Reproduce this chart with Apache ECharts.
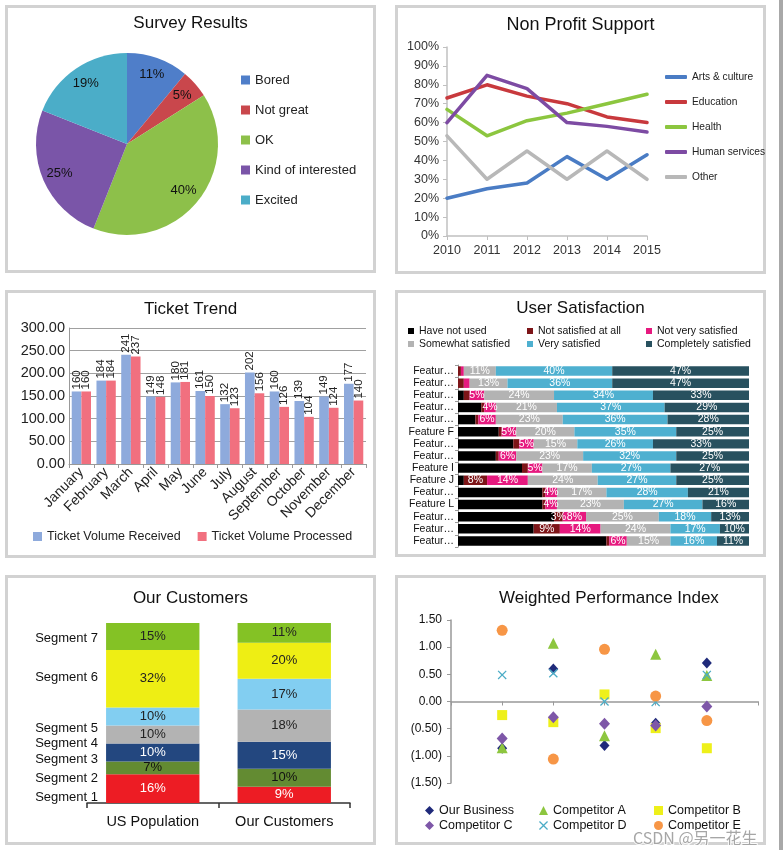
<!DOCTYPE html>
<html><head><meta charset="utf-8">
<script src="https://cdn.jsdelivr.net/npm/echarts@6/dist/echarts.min.js"></script>
<style>
html,body{margin:0;padding:0;background:#fff;width:783px;height:850px;overflow:hidden;position:relative}
.panel{position:absolute;box-sizing:border-box;border:3px solid #d2d2d2;background:#fff}
.chart{position:absolute}
#strip{position:absolute;left:779px;top:0;width:4px;height:850px;background:#a8a8a8}
</style></head><body>
<div id="strip"></div>
<script>
// ---------------- DATA ----------------
const surveyCategories = ['Bored', 'Not great', 'OK', 'Kind of interested', 'Excited'];
const surveyValues = [11, 5, 40, 25, 19];

const npYears = ['2010', '2011', '2012', '2013', '2014', '2015'];
const npSeriesNames = ['Arts & culture', 'Education', 'Health', 'Human services', 'Other'];
const npArts = [20, 25, 28, 42, 30, 43];
const npEducation = [73, 80, 74, 70, 63, 60];
const npHealth = [67, 53, 61, 65, 70, 75];
const npHuman = [60, 85, 78, 60, 58, 55];
const npOther = [53, 30, 45, 30, 45, 30];
const npTicks = [0, 10, 20, 30, 40, 50, 60, 70, 80, 90, 100];

const months = ['January', 'February', 'March', 'April', 'May', 'June', 'July', 'August', 'September', 'October', 'November', 'December'];
const ticketSeriesNames = ['Ticket Volume Received', 'Ticket Volume Processed'];
const ticketReceived = [160, 184, 241, 149, 180, 161, 132, 202, 160, 139, 149, 177];
const ticketProcessed = [160, 184, 237, 148, 181, 150, 123, 156, 126, 104, 124, 140];

const features = ['Feature A', 'Feature B', 'Feature C', 'Feature D', 'Feature E', 'Feature F', 'Feature G', 'Feature H', 'Feature I', 'Feature J', 'Feature K', 'Feature L', 'Feature M', 'Feature N', 'Feature O'];
const satLevels = ['Have not used', 'Not satisfied at all', 'Not very satisfied', 'Somewhat satisfied', 'Very satisfied', 'Completely satisfied'];
const satHaveNotUsed = [0, 0, 2, 8, 6, 14, 19, 13, 22, 2, 29, 29, 33, 26, 51];
const satNotAtAll    = [1, 2, 2, 1, 1, 1, 2, 1, 2, 8, 1, 1, 3, 9, 1];
const satNotVery     = [1, 2, 5, 4, 6, 5, 5, 6, 5, 14, 4, 4, 8, 14, 6];
const satSomewhat    = [11, 13, 24, 21, 23, 20, 15, 23, 17, 24, 17, 23, 25, 24, 15];
const satVery        = [40, 36, 34, 37, 36, 35, 26, 32, 27, 27, 28, 27, 18, 17, 16];
const satCompletely  = [47, 47, 33, 29, 28, 25, 33, 25, 27, 25, 21, 16, 13, 10, 11];

const custGroups = ['US Population', 'Our Customers'];
const segNames = ['Segment 1', 'Segment 2', 'Segment 3', 'Segment 4', 'Segment 5', 'Segment 6', 'Segment 7'];
const segUS = [16, 7, 10, 10, 10, 32, 15];
const segOurs = [9, 10, 15, 18, 17, 20, 11];

const wpiSeriesNames = ['Our Business', 'Competitor A', 'Competitor B', 'Competitor C', 'Competitor D', 'Competitor E'];
const wpiX = [1, 2, 3, 4, 5];
const wpiOurBusiness = [-0.86, 0.60, -0.81, -0.40, 0.71];
const wpiCompA = [-0.85, 1.07, -0.63, 0.87, 0.48];
const wpiCompB = [-0.25, -0.38, 0.13, -0.49, -0.86];
const wpiCompC = [-0.68, -0.29, -0.41, -0.44, -0.09];
const wpiCompD = [0.49, 0.52, 0.00, -0.01, 0.49];
const wpiCompE = [1.31, -1.06, 0.96, 0.10, -0.35];

// ---------------- LAYOUT / STYLE ----------------
const FONT = "'Liberation Sans', Arial, Helvetica, sans-serif";
const panels = [
  [5, 5, 371, 268], [395, 5, 371, 269],
  [5, 290, 371, 268], [395, 290, 371, 267],
  [5, 575, 371, 270], [395, 575, 371, 270]
];
const charts = panels.map((r, i) => {
  const p = document.createElement('div');
  p.className = 'panel';
  p.style.cssText = `left:${r[0]}px;top:${r[1]}px;width:${r[2]}px;height:${r[3]}px`;
  document.body.appendChild(p);
  const c = document.createElement('div');
  c.className = 'chart';
  c.style.cssText = `left:${r[0]}px;top:${r[1]}px;width:${r[2]}px;height:${r[3]}px`;
  document.body.appendChild(c);
  return echarts.init(c, null, { renderer: 'canvas' });
});
function titleOf(text, top, size, left) {
  return { text, left: left === undefined ? 'center' : left, top, padding: 0,
    textStyle: { fontFamily: FONT, fontSize: size, fontWeight: 'normal', color: '#111' } };
}
// Excel-like category label truncation (labels wider than the slot get an ellipsis)
const measureCtx = document.createElement('canvas').getContext('2d');
function fitLabel(text, font, maxW) {
  measureCtx.font = font;
  if (measureCtx.measureText(text).width <= maxW) return text;
  let t = text;
  while (t.length > 1 && measureCtx.measureText(t + '…').width > maxW) t = t.slice(0, -1);
  return t + '…';
}

// ---------- 1. Survey Results ----------
const surveyColors = ['#4f7ec9', '#c9474c', '#8dc04a', '#7a55a8', '#4badc8'];
const surveyData = surveyCategories.map((n, i) => ({ name: n, value: surveyValues[i] }));
charts[0].setOption({
  animation: false,
  textStyle: { fontFamily: FONT },
  color: surveyColors,
  title: titleOf('Survey Results', 10, 17),
  legend: { orient: 'vertical', left: 231, top: 63, icon: 'rect', itemWidth: 9, itemHeight: 9, itemGap: 16,
    data: surveyCategories, selectedMode: false,
    textStyle: { fontFamily: FONT, fontSize: 13, lineHeight: 14, color: '#222' } },
  series: [
    { type: 'pie', center: [122, 139], radius: [0, 91], startAngle: 90, silent: true,
      label: { show: false }, labelLine: { show: false }, data: surveyData },
    { type: 'pie', center: [122, 139], radius: [50, 91], startAngle: 90, silent: true,
      itemStyle: { color: 'rgba(0,0,0,0)' }, labelLine: { show: false },
      label: { show: true, position: 'inside', formatter: '{c}%', fontFamily: FONT, fontSize: 13, color: '#111' },
      data: surveyData }
  ]
});

// ---------- 2. Non Profit Support ----------
const npColors = ['#4a7cc4', '#c8393d', '#8cc63f', '#7d4ba3', '#b8b8b8'];
const npData = [npArts, npEducation, npHealth, npHuman, npOther];
charts[1].setOption({
  animation: false,
  color: npColors,
  title: titleOf('Non Profit Support', 11, 18),
  legend: { orient: 'vertical', left: 265, top: 60, icon: 'roundRect', itemWidth: 22, itemHeight: 4, itemGap: 11,
    data: npSeriesNames, selectedMode: false,
    textStyle: { fontFamily: FONT, fontSize: 10.2, lineHeight: 14, color: '#222' } },
  grid: { left: 52, top: 42, width: 200, height: 189 },
  xAxis: { type: 'category', data: npYears, boundaryGap: false,
    axisLine: { lineStyle: { color: '#c0c0c0', width: 1.5 } },
    axisTick: { show: true, length: 4, lineStyle: { color: '#c0c0c0' } },
    axisLabel: { fontFamily: FONT, fontSize: 12.5, color: '#333', margin: 8 } },
  yAxis: { type: 'value', min: npTicks[0], max: npTicks[npTicks.length - 1], interval: 10,
    axisLine: { show: true, lineStyle: { color: '#c0c0c0', width: 1.5 } },
    axisTick: { show: true, length: 4, lineStyle: { color: '#c0c0c0' } },
    splitLine: { show: false },
    axisLabel: { formatter: '{value}%', fontFamily: FONT, fontSize: 12.5, color: '#333', margin: 8 } },
  series: npSeriesNames.map((n, i) => ({ name: n, type: 'line', data: npData[i], symbol: 'none',
    lineStyle: { width: 3.5, cap: 'round', join: 'round' } }))
});

// ---------- 3. Ticket Trend ----------
const ticketColors = ['#8eaadc', '#f1707f'];
const ticketData = [ticketReceived, ticketProcessed];
charts[2].setOption({
  animation: false,
  color: ticketColors,
  title: titleOf('Ticket Trend', 11, 17),
  legend: { left: 23, top: 235, icon: 'rect', itemWidth: 9, itemHeight: 9, itemGap: 17,
    data: ticketSeriesNames, selectedMode: false,
    textStyle: { fontFamily: FONT, fontSize: 12.5, color: '#222' } },
  grid: { left: 64, top: 38, width: 297, height: 136 },
  xAxis: { type: 'category', data: months,
    axisLine: { lineStyle: { color: '#999' } },
    axisTick: { show: true, length: 4, lineStyle: { color: '#999' } },
    axisLabel: { rotate: 45, interval: 0, fontFamily: FONT, fontSize: 14, color: '#222', margin: 6 } },
  yAxis: { type: 'value', min: 0, max: 300, interval: 50,
    axisLine: { show: true, lineStyle: { color: '#999' } },
    splitLine: { lineStyle: { color: '#a0a0a0' } },
    axisLabel: { formatter: v => v.toFixed(2), fontFamily: FONT, fontSize: 14.5, color: '#222', margin: 4 } },
  series: ticketSeriesNames.map((n, i) => ({ name: n, type: 'bar', data: ticketData[i],
    barGap: '0%', barCategoryGap: '22%',
    label: { show: true, position: 'top', rotate: 90, align: 'left', verticalAlign: 'middle', distance: 2,
      fontFamily: FONT, fontSize: 11.5, color: '#222' } }))
});

// ---------- 4. User Satisfaction ----------
const satColors = ['#000000', '#7d1518', '#e6197f', '#b3b3b3', '#4eb0d0', '#28515f'];
const satData = [satHaveNotUsed, satNotAtAll, satNotVery, satSomewhat, satVery, satCompletely];
const satLegendCols = [[0, 3], [1, 4], [2, 5]];
const satLegendLeft = [8, 127, 246];
const satLabelFont = '10.5px ' + FONT;
charts[3].setOption({
  animation: false,
  color: satColors,
  title: titleOf('User Satisfaction', 10, 17),
  legend: satLegendCols.map((col, k) => ({ orient: 'vertical', left: satLegendLeft[k], top: 30,
    icon: 'rect', itemWidth: 6, itemHeight: 6, itemGap: 1, selectedMode: false,
    data: col.map(j => satLevels[j]),
    textStyle: { fontFamily: FONT, fontSize: 10.5, lineHeight: 12, color: '#111' } })),
  grid: { left: 63, top: 75, width: 291, height: 182 },
  xAxis: { type: 'value', min: 0, max: 100, show: false },
  yAxis: { type: 'category', data: features, inverse: true,
    axisLine: { show: true, lineStyle: { color: '#999' } },
    axisTick: { show: true, length: 3, lineStyle: { color: '#999' } },
    axisLabel: { interval: 0, fontFamily: FONT, fontSize: 10.5, color: '#111', margin: 4,
      formatter: v => fitLabel(v, satLabelFont, 45.8) } },
  series: satLevels.map((n, i) => ({ name: n, type: 'bar', stack: 'sat', data: satData[i],
    barCategoryGap: '22%',
    label: { show: i > 0, position: 'inside', formatter: p => p.value >= 3 ? p.value + '%' : '',
      fontFamily: FONT, fontSize: 10.5, color: '#fff' } }))
});

// ---------- 5. Our Customers ----------
const segColors = ['#ed1c24', '#638b32', '#23477f', '#b3b3b3', '#82cef1', '#eeee14', '#84c225'];
const segLabelColors = ['#fff', '#111', '#fff', '#222', '#222', '#222', '#222'];
const segNameNudgePx = [9, 11, 7, 9, 12, -1, 2];   // label placement nudges (px, downward)
const custPlotH = 180;
let acc = 0;
const segNamePos = segUS.map((v, i) => { const mid = acc + v / 2; acc += v; return mid - segNameNudgePx[i] * 100 / custPlotH; });
charts[4].setOption({
  animation: false,
  title: titleOf('Our Customers', 15, 17),
  grid: { left: 82, top: 48, width: 263, height: custPlotH },
  xAxis: { type: 'category', data: custGroups,
    axisLine: { lineStyle: { color: '#333', width: 1.5 } },
    axisTick: { show: true, length: 5, lineStyle: { color: '#333', width: 1.5 } },
    axisLabel: { fontFamily: FONT, fontSize: 14.5, color: '#111', margin: 11 } },
  yAxis: { type: 'value', min: 0, max: 100, offset: -12,
    axisLine: { show: false }, axisTick: { show: false }, splitLine: { show: false },
    axisLabel: { customValues: segNamePos, margin: 1, fontFamily: FONT, fontSize: 13, color: '#111',
      formatter: v => { let b = 0; segNamePos.forEach((p, k) => { if (Math.abs(p - v) < Math.abs(segNamePos[b] - v)) b = k; }); return segNames[b]; } } },
  series: segNames.map((n, i) => ({ name: n, type: 'bar', stack: 'cust', data: [segUS[i], segOurs[i]],
    barWidth: '71%', itemStyle: { color: segColors[i] },
    label: { show: true, position: 'inside', formatter: '{c}%', fontFamily: FONT, fontSize: 13, color: segLabelColors[i] } }))
});

// ---------- 6. Weighted Performance Index ----------
const wpiColors = ['#1f2a7a', '#8dc63f', '#eef01a', '#7e57a8', '#4bacc6', '#f79646'];
const wpiSymbols = ['diamond', 'triangle', 'rect', 'diamond',
  'path://M1,0 L5,4 L9,0 L10,1 L6,5 L10,9 L9,10 L5,6 L1,10 L0,9 L4,5 L0,1 Z', 'circle'];
const wpiSizes = [[10, 11], 11, 10, [11, 12], 9, 11];
const wpiData = [wpiOurBusiness, wpiCompA, wpiCompB, wpiCompC, wpiCompD, wpiCompE];
const wpiLegendCols = [[0, 3], [1, 4], [2, 5]];
const wpiLegendLeft = [25, 139, 254];
charts[5].setOption({
  animation: false,
  color: wpiColors,
  title: titleOf('Weighted Performance Index', 15, 17, 104),
  legend: wpiLegendCols.map((col, k) => ({ orient: 'vertical', left: wpiLegendLeft[k], top: 224,
    itemWidth: 9, itemHeight: 9, itemGap: 2, selectedMode: false,
    data: col.map(j => wpiSeriesNames[j]),
    textStyle: { fontFamily: FONT, fontSize: 12.5, lineHeight: 13, color: '#111' } })),
  grid: { left: 56, top: 45, width: 307, height: 163 },
  xAxis: { type: 'value', min: 0, max: 6, interval: 1,
    axisLine: { onZero: true, lineStyle: { color: '#999', width: 1.5 } },
    axisTick: { show: true, length: 4, lineStyle: { color: '#999' } },
    axisLabel: { show: false }, splitLine: { show: false } },
  yAxis: { type: 'value', min: -1.5, max: 1.5, interval: 0.5,
    axisLine: { show: true, lineStyle: { color: '#999', width: 1.5 } },
    axisTick: { show: true, length: 4, lineStyle: { color: '#999' } },
    splitLine: { show: false },
    axisLabel: { fontFamily: FONT, fontSize: 12, color: '#111', margin: 9,
      formatter: v => v < 0 ? '(' + Math.abs(v).toFixed(2) + ')' : v.toFixed(2) } },
  series: wpiSeriesNames.map((n, i) => ({ name: n, type: 'scatter', symbol: wpiSymbols[i], symbolSize: wpiSizes[i],
    data: wpiX.map((x, k) => [x, wpiData[i][k]]), itemStyle: { opacity: 1 } })),
  graphic: [{ type: 'text', left: 237, top: 254, z: 100,
    style: { text: 'CSDN @另一花生', font: "16px 'Noto Sans CJK SC', sans-serif",
      fill: 'rgba(150,150,150,0.85)', stroke: 'rgba(255,255,255,0.9)', lineWidth: 2 } }]
});
</script>
</body></html>
